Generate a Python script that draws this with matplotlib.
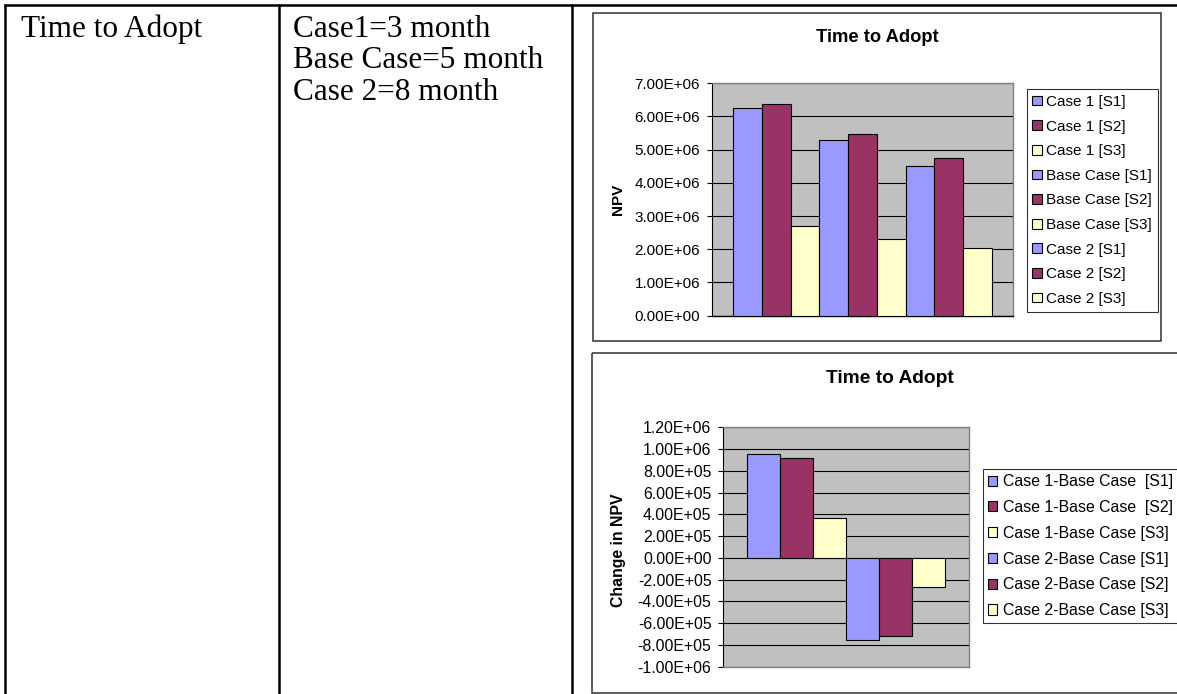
import numpy as np
import matplotlib
matplotlib.use("Agg")
import matplotlib.pyplot as plt
from matplotlib.patches import Rectangle
from matplotlib.ticker import FuncFormatter, FixedLocator

plt.rcParams["font.family"] = ["Liberation Sans", "DejaVu Sans"]

W, H = 1177, 694

# Table text
row_label = "Time to Adopt"
case_lines = ["Case1=3 month", "Base Case=5 month", "Case 2=8 month"]

# Upper chart: NPV per case and scenario
npv_title = "Time to Adopt"
npv_ylabel = "NPV"
npv_series = ["Case 1 [S1]", "Case 1 [S2]", "Case 1 [S3]",
              "Base Case [S1]", "Base Case [S2]", "Base Case [S3]",
              "Case 2 [S1]", "Case 2 [S2]", "Case 2 [S3]"]
npv_values = [6.25e6, 6.39e6, 2.70e6, 5.29e6, 5.46e6, 2.32e6, 4.51e6, 4.76e6, 2.04e6]
npv_ticks = [0, 1e6, 2e6, 3e6, 4e6, 5e6, 6e6, 7e6]

# Lower chart: change in NPV relative to the base case
delta_title = "Time to Adopt"
delta_ylabel = "Change in NPV"
delta_series = ["Case 1-Base Case  [S1]", "Case 1-Base Case  [S2]", "Case 1-Base Case [S3]",
                "Case 2-Base Case [S1]", "Case 2-Base Case [S2]", "Case 2-Base Case [S3]"]
delta_values = [9.56e5, 9.2e5, 3.68e5, -7.57e5, -7.14e5, -2.7e5]
delta_ticks = [-1e6, -8e5, -6e5, -4e5, -2e5, 0, 2e5, 4e5, 6e5, 8e5, 1e6, 1.2e6]

scenario_colors = ["#9999FF", "#993366", "#FFFFCC"]

fig = plt.figure(figsize=(W / 100, H / 100), dpi=100)
fig.patch.set_facecolor("white")


def px_rect(left, top, right, bottom):
    return [left / W, 1 - bottom / H, (right - left) / W, (bottom - top) / H]


def px_pt(x, y):
    return (x / W, 1 - y / H)


# Page layer: table rules, cell text, chart frames
bg = fig.add_axes([0, 0, 1, 1], zorder=0)
bg.set_xlim(0, W)
bg.set_ylim(H, 0)
bg.axis("off")

rule = dict(color="black", lw=1.8, solid_capstyle="butt")
bg.plot([3.5, W], [5.3, 5.3], **rule)
bg.plot([4.7, 4.7], [4.4, H], **rule)
bg.plot([279.3, 279.3], [4.4, H], **rule)
bg.plot([572.3, 572.3], [4.4, H], **rule)

serif = ["Liberation Serif", "DejaVu Serif"]
bg.text(20.7, 36.5, row_label, family=serif, fontsize=22.5, va="baseline", ha="left")
for i, line in enumerate(case_lines):
    bg.text(292.7, 36.5 + i * 31.5, line, family=serif, fontsize=22.5, va="baseline", ha="left")

bg.add_patch(Rectangle((593, 13), 568, 328, fill=False, ec="#303030", lw=1.1))
bg.add_patch(Rectangle((592, 353), 640, 339.5, fill=False, ec="#303030", lw=1.1, clip_on=False))

sci = FuncFormatter(lambda v, p: f"{v:.2E}")


def style_axes(ax, ticks, ylim, labelsize):
    ax.set_facecolor("#C0C0C0")
    ax.set_ylim(*ylim)
    ax.yaxis.set_major_locator(FixedLocator(ticks))
    ax.yaxis.set_major_formatter(sci)
    ax.set_xticks([])
    ax.yaxis.grid(True, color="black", lw=0.8)
    ax.set_axisbelow(True)
    for side in ("top", "right", "bottom"):
        ax.spines[side].set_color("#808080")
        ax.spines[side].set_linewidth(1.0)
    ax.spines["left"].set_color("black")
    ax.spines["left"].set_linewidth(0.8)
    ax.tick_params(axis="y", direction="out", length=3.6, width=0.8,
                   color="black", labelsize=labelsize, pad=4.6)


# Upper chart
ax1 = fig.add_axes(px_rect(711.5, 83.3, 1013.3, 315.7), zorder=2)
style_axes(ax1, npv_ticks, (0, 7e6), 11)
ax1.spines["bottom"].set_color("black")
for i, (name, v) in enumerate(zip(npv_series, npv_values)):
    ax1.bar(i, v, width=1.0, color=scenario_colors[i % 3], edgecolor="black",
            linewidth=0.8, label=name, zorder=3)
ax1.set_xlim(-1.25, len(npv_values) - 0.5 + 0.75)
ax1.set_ylabel(npv_ylabel, fontsize=11, fontweight="bold", va="center")
ax1.yaxis.set_label_coords(*px_pt(618, 199.5), transform=fig.transFigure)
fig.text(*px_pt(877, 37), npv_title, ha="center", va="center",
         fontsize=13.2, fontweight="bold")
leg1 = ax1.legend(loc="upper left", bbox_to_anchor=px_pt(1026.7, 89.3),
                  bbox_transform=fig.transFigure, frameon=True, fancybox=False,
                  edgecolor="black", fontsize=11, handlelength=0.6, handleheight=0.6,
                  handletextpad=0.3, labelspacing=0.695, borderpad=0.37,
                  borderaxespad=0)
leg1.get_frame().set_linewidth(0.8)

# Lower chart
ax2 = fig.add_axes(px_rect(722.8, 427.3, 969.3, 666.7), zorder=2)
style_axes(ax2, delta_ticks, (-1e6, 1.2e6), 11.4)
for i, (name, v) in enumerate(zip(delta_series, delta_values)):
    ax2.bar(i, v, width=1.0, color=scenario_colors[i % 3], edgecolor="black",
            linewidth=0.8, label=name, zorder=3)
ax2.set_xlim(-1.25, len(delta_values) - 0.5 + 0.75)
ax2.set_ylabel(delta_ylabel, fontsize=11.4, fontweight="bold", va="center")
ax2.yaxis.set_label_coords(*px_pt(619, 550), transform=fig.transFigure)
fig.text(*px_pt(890, 378.3), delta_title, ha="center", va="center",
         fontsize=13.8, fontweight="bold")
leg2 = ax2.legend(loc="upper left", bbox_to_anchor=px_pt(982.7, 469),
                  bbox_transform=fig.transFigure, frameon=True, fancybox=False,
                  edgecolor="black", fontsize=11.4, handlelength=0.6, handleheight=0.6,
                  handletextpad=0.35, labelspacing=0.68, borderpad=0.33,
                  borderaxespad=0)
leg2.get_frame().set_linewidth(0.8)

fig.savefig("out.png", dpi=100, facecolor="white")
